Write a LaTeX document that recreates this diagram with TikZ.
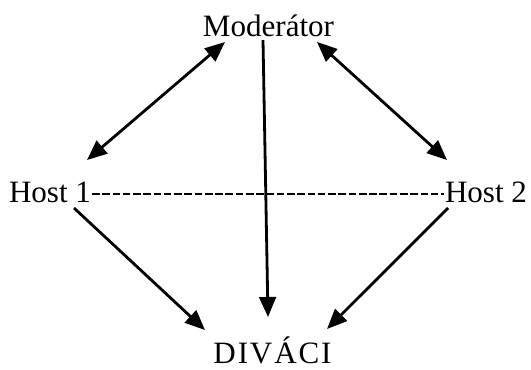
\documentclass[tikz,border=0pt]{standalone}
\usepackage{fontspec}
\setmainfont{Liberation Serif}
\newfontfamily\spacedfont[LetterSpace=6]{Liberation Serif}
\usetikzlibrary{arrows.meta}
\tikzset{
  lbl/.style={inner sep=0pt, outer sep=0pt, font=\fontsize{23.3}{28}\selectfont},
  arr/.style={line width=2.1pt, -{Triangle[length=15pt,width=12.5pt]}},
  dbl/.style={line width=2.1pt, {Triangle[length=15pt,width=12.5pt]}-{Triangle[length=15pt,width=12.5pt]}},
  hyph/.style={line width=1.4pt, dash pattern=on 5.7pt off 2pt}
}
\begin{document}
\begin{tikzpicture}[x=0.75pt,y=-0.75pt]
\useasboundingbox (0,0) rectangle (531,369);
\node[lbl, anchor=base] (mod) at (268.5,36) {Moderátor};
\node[lbl, anchor=base west] (host1) at (9,202) {Host 1};
\node[lbl, anchor=base east] (host2) at (527,202) {Host 2};
\node[lbl, anchor=base, font=\spacedfont\fontsize{23.3}{28}\selectfont] (div) at (272.5,363) {DIVÁCI};
\draw[dbl] ([shift={(-43.5,6)}]mod.base) -- ([shift={(-4,-42)}]host1.base east);
\draw[dbl] ([shift={(48.5,6)}]mod.base) -- ([shift={(2,-42)}]host2.base west);
\draw[arr] ([shift={(-5.5,4)}]mod.base) -- ([shift={(-4.5,-46)}]div.base);
\draw[hyph] ([shift={(1,-8)}]host1.base east) -- ([shift={(-1,-8)}]host2.base west);
\draw[arr] ([shift={(-17,6)}]host1.base east) -- ([shift={(-67.5,-33)}]div.base);
\draw[arr] ([shift={(3,6)}]host2.base west) -- ([shift={(54.5,-34)}]div.base);
\end{tikzpicture}
\end{document}
